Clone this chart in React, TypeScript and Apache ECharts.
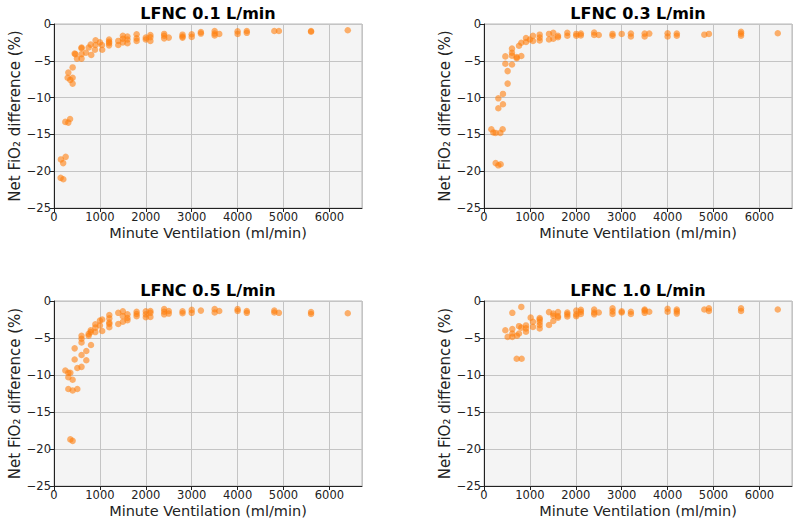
import React, { useEffect, useRef } from "react";
import * as echarts from "echarts";

// Minute ventilation (ml/min) and net FiO2 difference (%) per LFNC flow rate
const mv01 = [145, 203, 150, 200, 254, 247, 312, 350, 312, 406, 297, 356, 406, 406, 450, 465, 500, 600, 600, 600, 600, 697, 755, 800, 812, 892, 906, 906, 1000, 1045, 1050, 1200, 1200, 1200, 1200, 1400, 1400, 1500, 1500, 1500, 1600, 1600, 1600, 1800, 1800, 1800, 2000, 2000, 2100, 2100, 2100, 2400, 2400, 2400, 2500, 2800, 2800, 2800, 3000, 3000, 3200, 3200, 3500, 3500, 3500, 3600, 4000, 4000, 4200, 4200, 4800, 4900, 5600, 5600, 6400];
const fio01 = [-20.9, -21.1, -18.4, -18.9, -18.05, -13.3, -13.4, -12.9, -6.6, -5.9, -7.3, -7.6, -7.3, -8.1, -4.0, -4.1, -4.7, -4.7, -4.1, -3.3, -3.2, -3.9, -3.2, -2.8, -4.2, -3.5, -2.85, -2.2, -2.5, -2.85, -3.5, -2.1, -2.4, -2.6, -2.9, -2.3, -2.85, -1.6, -2.0, -2.5, -1.7, -2.1, -2.6, -1.4, -1.95, -2.3, -1.85, -2.1, -1.5, -1.8, -2.3, -1.35, -1.6, -1.95, -1.85, -1.45, -1.7, -1.85, -1.4, -1.75, -1.1, -1.3, -0.95, -1.3, -1.55, -1.35, -1.0, -1.35, -0.95, -1.2, -0.95, -0.95, -0.95, -1.05, -0.85];

const mv03 = [160, 203, 254, 356, 406, 254, 312, 363, 312, 312, 413, 413, 515, 515, 465, 465, 610, 610, 610, 610, 712, 712, 762, 813, 813, 915, 915, 1000, 1067, 1067, 1213, 1213, 1213, 1416, 1416, 1510, 1510, 1612, 1612, 1815, 1815, 2010, 2010, 2110, 2110, 2400, 2400, 2500, 2800, 2800, 3000, 3200, 3200, 3500, 3500, 3600, 4000, 4000, 4200, 4200, 4800, 4900, 5600, 5600, 5600, 6400];
const fio03 = [-14.3, -14.75, -14.8, -14.8, -14.3, -18.9, -19.2, -19.05, -10.1, -11.45, -9.5, -10.9, -8.1, -6.4, -5.4, -4.4, -5.5, -4.3, -3.9, -3.35, -4.65, -4.5, -2.95, -4.35, -2.55, -2.45, -1.9, -2.1, -2.3, -1.6, -1.45, -1.85, -2.25, -1.35, -2.1, -1.2, -2.0, -1.6, -1.8, -1.2, -1.6, -1.35, -1.6, -1.3, -1.55, -1.15, -1.5, -1.5, -1.35, -1.6, -1.35, -1.3, -1.7, -1.3, -1.7, -1.3, -1.25, -1.7, -1.3, -1.6, -1.45, -1.35, -1.05, -1.3, -1.6, -1.25];

const mv05 = [247, 312, 356, 312, 406, 312, 406, 508, 356, 406, 450, 450, 508, 600, 600, 600, 600, 600, 704, 704, 755, 755, 800, 800, 806, 900, 900, 900, 1000, 1000, 1050, 1050, 1205, 1205, 1205, 1205, 1205, 1400, 1400, 1500, 1500, 1500, 1600, 1600, 1600, 1800, 1800, 1800, 2000, 2000, 2000, 2100, 2100, 2100, 2400, 2400, 2400, 2500, 2500, 2800, 2800, 3000, 3000, 3200, 3500, 3500, 3600, 4000, 4000, 4200, 4200, 4800, 4800, 4900, 5600, 5600, 6400];
const fio05 = [-9.4, -9.7, -9.7, -10.3, -10.65, -11.9, -12.1, -11.9, -18.7, -18.9, -6.4, -7.9, -9.05, -4.7, -5.1, -5.6, -7.3, -8.9, -6.75, -8.0, -4.7, -4.45, -3.95, -4.2, -5.95, -3.15, -3.6, -4.2, -2.65, -3.3, -2.5, -4.05, -1.9, -2.35, -2.9, -3.1, -3.55, -1.6, -3.1, -1.4, -2.05, -2.8, -1.8, -2.3, -2.6, -1.45, -1.75, -2.05, -1.4, -1.8, -2.2, -1.35, -1.6, -2.15, -1.1, -1.45, -1.8, -1.35, -1.7, -1.4, -1.65, -1.2, -1.6, -1.3, -1.1, -1.55, -1.35, -1.1, -1.35, -1.35, -1.6, -1.3, -1.55, -1.6, -1.5, -1.75, -1.65];

const mv10 = [617, 813, 465, 515, 617, 617, 617, 719, 762, 762, 813, 712, 820, 915, 915, 915, 1017, 1067, 1067, 1213, 1213, 1213, 1213, 1213, 1416, 1416, 1510, 1510, 1510, 1612, 1612, 1612, 1815, 1815, 1815, 2010, 2010, 2010, 2110, 2110, 2110, 2400, 2400, 2400, 2500, 2800, 2800, 2800, 3000, 3000, 3200, 3200, 3500, 3500, 3500, 3600, 4000, 4000, 4200, 4200, 4200, 4800, 4900, 4900, 5600, 5600, 6400];
const fio10 = [-1.6, -0.8, -3.95, -4.85, -3.8, -4.4, -4.85, -4.7, -4.4, -3.4, -3.6, -7.8, -7.8, -3.3, -3.7, -4.15, -2.25, -2.8, -3.5, -2.3, -2.5, -2.85, -3.25, -3.7, -1.5, -3.25, -1.7, -2.0, -2.7, -1.5, -2.05, -2.25, -1.55, -1.8, -2.1, -1.3, -1.8, -2.05, -1.2, -1.45, -1.75, -1.15, -1.55, -1.8, -1.55, -1.0, -1.4, -1.75, -1.4, -1.55, -1.45, -1.75, -1.15, -1.3, -1.6, -1.45, -1.05, -1.45, -1.15, -1.4, -1.7, -1.15, -1.0, -1.35, -1.0, -1.35, -1.15];

const titles = ["LFNC 0.1 L/min", "LFNC 0.3 L/min", "LFNC 0.5 L/min", "LFNC 1.0 L/min"];
const panels = [
  { x: mv01, y: fio01 },
  { x: mv03, y: fio03 },
  { x: mv05, y: fio05 },
  { x: mv10, y: fio10 },
];

const FONT = "DejaVu Sans";
const W = 800;
const H = 525;
// plot rectangles: [left, top, width, height]
const rects = [
  [54, 24, 308, 184],
  [484, 24, 308, 184],
  [54, 301, 308, 185],
  [484, 301, 308, 185],
];

export default function App() {
  const ref = useRef<HTMLDivElement>(null);

  useEffect(() => {
    if (!ref.current) return;
    const chart = echarts.init(ref.current, undefined, { renderer: "svg" });

    const grids = rects.map(([l, t, w, h]) => ({
      left: l,
      top: t,
      width: w,
      height: h,
      show: true,
      backgroundColor: "#f4f4f4",
      borderColor: "#b8b8b8",
      borderWidth: 1,
    }));

    const xAxes = rects.map((_, i) => ({
      type: "value" as const,
      gridIndex: i,
      min: 0,
      max: 6710,
      interval: 1000,
      name: "Minute Ventilation (ml/min)",
      nameLocation: "middle" as const,
      nameGap: 17,
      nameTextStyle: { fontFamily: FONT, fontSize: 14.5, color: "#222" },
      axisLine: { show: true, onZero: false, lineStyle: { color: "#222", width: 1 } },
      axisTick: { show: true, length: 4, lineStyle: { color: "#222" } },
      axisLabel: {
        fontFamily: FONT,
        fontSize: 11.5,
        color: "#222",
        margin: 3,
        showMaxLabel: false,
        formatter: (v: number) => String(v),
      },
      splitLine: { show: true, lineStyle: { color: "#c4c4c4", width: 1 } },
    }));

    const yAxes = rects.map((_, i) => ({
      type: "value" as const,
      gridIndex: i,
      min: -25,
      max: 0,
      interval: 5,
      name: "Net FiO₂ difference (%)",
      nameLocation: "middle" as const,
      nameGap: 32,
      nameTextStyle: { fontFamily: FONT, fontSize: 15, color: "#222" },
      axisLine: { show: true, onZero: false, lineStyle: { color: "#222", width: 1 } },
      axisTick: { show: true, length: 4, lineStyle: { color: "#222" } },
      axisLabel: {
        fontFamily: FONT,
        fontSize: 11.5,
        color: "#222",
        margin: 3,
        formatter: (v: number) => String(v).replace("-", "\u2212"),
      },
      splitLine: { show: true, lineStyle: { color: "#c4c4c4", width: 1 } },
    }));

    const series = panels.map((p, i) => ({
      type: "scatter" as const,
      xAxisIndex: i,
      yAxisIndex: i,
      symbolSize: 6.5,
      itemStyle: { color: "#ff7f0e", opacity: 0.6 },
      data: p.x.map((v, k) => [v, p.y[k]]),
    }));

    const titleTexts = rects.map(([l, t, w], i) => ({
      type: "text" as const,
      x: l + w / 2,
      y: t - 11,
      style: {
        text: titles[i],
        fontFamily: FONT,
        fontSize: 16,
        fontWeight: "bold",
        fill: "#000",
        align: "center",
        verticalAlign: "middle",
      },
    }));

    chart.setOption({
      animation: false,
      backgroundColor: "#fff",
      grid: grids,
      xAxis: xAxes,
      yAxis: yAxes,
      series,
      graphic: titleTexts,
    });

    return () => chart.dispose();
  }, []);

  return (
    <div
      ref={ref}
      style={{ position: "fixed", left: 0, top: 0, width: W, height: H }}
    />
  );
}
